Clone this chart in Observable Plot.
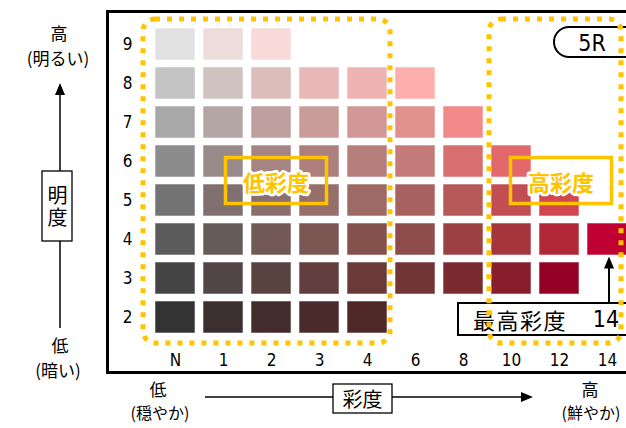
<!DOCTYPE html>
<html><head><meta charset="utf-8">
<script src="https://cdn.jsdelivr.net/npm/d3@7"></script>
<script src="https://cdn.jsdelivr.net/npm/@observablehq/plot@0.6"></script>
<style>
html,body{margin:0;padding:0;background:#fff;overflow:hidden;}
#chart svg{overflow:visible;display:block}
</style></head><body><div id="chart"></div>
<script>
// ---- data ----
const hueName = "5R";
const chromaLabels = ["N","1","2","3","4","6","8","10","12","14"];
const valueLabels = [9,8,7,6,5,4,3,2];
const maxChroma = "14";
const maxValue = 4;
// colours per value row, in chromaLabels order (null = no chip)
const row9 = ["#e0e1e0","#ecdcdc","#f8dad9",null,null,null,null,null,null,null];
const row8 = ["#c4c4c4","#d0c2c1","#dbbdba","#e7b8b7","#edb4b2","#feaeac",null,null,null,null];
const row7 = ["#a8a8a8","#b4a6a5","#bfa09f","#c99c9a","#d29895","#e0918e","#f28a89",null,null,null];
const row6 = ["#8c8c8c","#988a89","#a48583","#ad807d","#b57e7a","#c47b79","#d66f6d","#e3686b",null,null];
const row5 = ["#737373","#807170","#8b6f6c","#966e6a","#9e6a65","#a8625f","#b65958","#c24e54","#d0474e",null];
const row4 = ["#5b5b5b","#665b59","#725856","#7c5653","#85514d","#8d4b4a","#9b4043","#a5363d","#b12738","#c00033"];
const row3 = ["#444444","#514545","#594341","#623f3e","#6a3a39","#713535","#7b2b2f","#881d2b","#940026",null];
const row2 = ["#333333","#3b302f","#432d2c","#4a2a2a","#4f2727",null,null,null,null,null];
const rows = [row9,row8,row7,row6,row5,row4,row3,row2];

const cells = [];
rows.forEach((row, i) => row.forEach((c, j) => {
  if (c) cells.push({chroma: chromaLabels[j], value: valueLabels[i], color: c});
}));

const narrow = "'Liberation Sans Narrow','Arial Narrow','DejaVu Sans Condensed',sans-serif";
const jp = "'Noto Sans CJK JP',sans-serif";
const gold = "#ffc300";

const plot = Plot.plot({
  width: 626, height: 428,
  marginLeft: 107, marginTop: 11, marginBottom: 56, marginRight: -40,
  style: {fontFamily: narrow, background: "white", overflow: "visible", color: "black"},
  x: {type: "band", domain: chromaLabels, range: [144.25, 639], padding: 0.16, axis: null},
  y: {type: "band", domain: valueLabels, range: [19.35, 341.4], padding: 0.175, axis: null},
  color: {type: "identity"},
  marks: [
    Plot.cell(cells, {x: "chroma", y: "value", fill: "color", stroke: "white", strokeOpacity: 0.55, strokeWidth: 1}),
    Plot.text(chromaLabels, {x: d => d, frameAnchor: "bottom", lineAnchor: "middle", dy: -12, fontSize: 17, fill: "black"}),
    Plot.text(valueLabels, {y: d => d, frameAnchor: "left", lineAnchor: "middle", dx: 20, textAnchor: "middle", fontSize: 17, fill: "black"}),
    Plot.frame({stroke: "black", strokeWidth: 3})
  ]
});
document.getElementById("chart").append(plot);

// ---- annotations positioned from the plot's scales ----
const X = plot.scale("x"), Y = plot.scale("y");
const bx = X.bandwidth, by = Y.bandwidth;
const xL = v => X.apply(v), xR = v => X.apply(v) + bx, xC = v => X.apply(v) + bx / 2;
const yT = v => Y.apply(v), yB = v => Y.apply(v) + by;
const svg = d3.select(plot);
const g = svg.append("g");

function txt(x, y, s, size, opts = {}) {
  const t = g.append("text").attr("x", x).attr("y", y)
    .attr("text-anchor", opts.anchor || "middle").attr("dominant-baseline", "central")
    .attr("font-family", opts.font || jp).attr("font-size", size)
    .attr("fill", opts.fill || "black").text(s);
  if (opts.weight) t.attr("font-weight", opts.weight);
  if (opts.halo) t.attr("stroke", "white").attr("stroke-width", opts.halo).attr("paint-order", "stroke").attr("stroke-linejoin", "round");
  if (opts.ls) t.attr("letter-spacing", opts.ls);
  return t;
}
function tri(x, y, dir) { // arrowhead tip at (x,y)
  const p = dir === "up" ? `M${x},${y}L${x-5},${y+12}L${x+5},${y+12}Z` : `M${x},${y}L${x-12},${y-5}L${x-12},${y+5}Z`;
  g.append("path").attr("d", p).attr("fill", "black");
}

// max-chroma callout
const mx = xC(maxChroma) + 2;
const boxTop = yB(2) - 30;
g.append("rect").attr("x", xR("6") + 23).attr("y", boxTop).attr("width", 200).attr("height", 32)
  .attr("fill", "white").attr("stroke", "black").attr("stroke-width", 2);
txt(xR("6") + 38, boxTop + 16, "最高彩度", 22, {anchor: "start", ls: 1.5});
txt(mx - 3, boxTop + 16, maxChroma, 23, {font: narrow});
g.append("line").attr("x1", mx).attr("x2", mx).attr("y1", boxTop).attr("y2", yB(maxValue) + 12)
  .attr("stroke", "black").attr("stroke-width", 2);
tri(mx, yB(maxValue) + 1.5, "up");

// hue tag
g.append("rect").attr("x", xL("12") + 15).attr("y", yT(9) - 1).attr("width", 110).attr("height", 30).attr("rx", 15)
  .attr("fill", "white").attr("stroke", "black").attr("stroke-width", 2);
txt(xL("12") + 53, yT(9) + 14.5, hueName, 23, {font: narrow});

// dotted groups
function dotted(x0, x1) {
  g.append("rect").attr("x", x0).attr("y", yT(9) - 9).attr("width", x1 - x0).attr("height", yB(2) + 10 - (yT(9) - 9))
    .attr("rx", 12).attr("fill", "none").attr("stroke", gold).attr("stroke-width", 5).attr("stroke-dasharray", "5 7");
}
dotted(xL("N") - 12, xR("4") + 3);
dotted(xL("10") - 2, xL("14") + 34);

// group labels
const ly = (yB(6) + yT(5)) / 2;
function label(cx, s) {
  g.append("rect").attr("x", cx - 50.5).attr("y", ly - 23).attr("width", 101).attr("height", 46)
    .attr("fill", "none").attr("stroke", gold).attr("stroke-width", 3.5);
  txt(cx, ly, s, 22, {fill: gold, weight: 700, halo: 5});
}
label(xC("2") + 5, "低彩度");
label(xC("12") + 2, "高彩度");

// ---- outer axis legends ----
// vertical (明度)
txt(59, 32, "高", 17);
txt(58, 57, "(明るい)", 17);
g.append("line").attr("x1", 60).attr("x2", 60).attr("y1", 94).attr("y2", 328).attr("stroke", "black").attr("stroke-width", 1.5);
tri(60, 83, "up");
g.append("rect").attr("x", 42).attr("y", 171).attr("width", 30).attr("height", 70).attr("fill", "white").attr("stroke", "black").attr("stroke-width", 1.3);
g.append("text").attr("x", 57.5).attr("y", 207).attr("text-anchor", "middle")
  .attr("writing-mode", "vertical-rl").style("writing-mode", "vertical-rl")
  .attr("font-family", jp).attr("font-size", 20).attr("letter-spacing", 2).attr("fill", "black").text("明度");
txt(60, 344, "低", 17);
txt(58, 369, "(暗い)", 17);

// horizontal (彩度)
txt(158, 388, "低", 17);
txt(160, 412, "(穏やか)", 16);
g.append("line").attr("x1", 205).attr("x2", 522).attr("y1", 397).attr("y2", 397).attr("stroke", "black").attr("stroke-width", 1.5);
tri(533, 397, "right");
g.append("rect").attr("x", 333).attr("y", 384).attr("width", 59).attr("height", 29).attr("fill", "white").attr("stroke", "black").attr("stroke-width", 1.3);
txt(362.5, 398.5, "彩度", 20);
txt(590, 388, "高", 17);
txt(591, 412, "(鮮やか)", 16);
</script></body></html>
